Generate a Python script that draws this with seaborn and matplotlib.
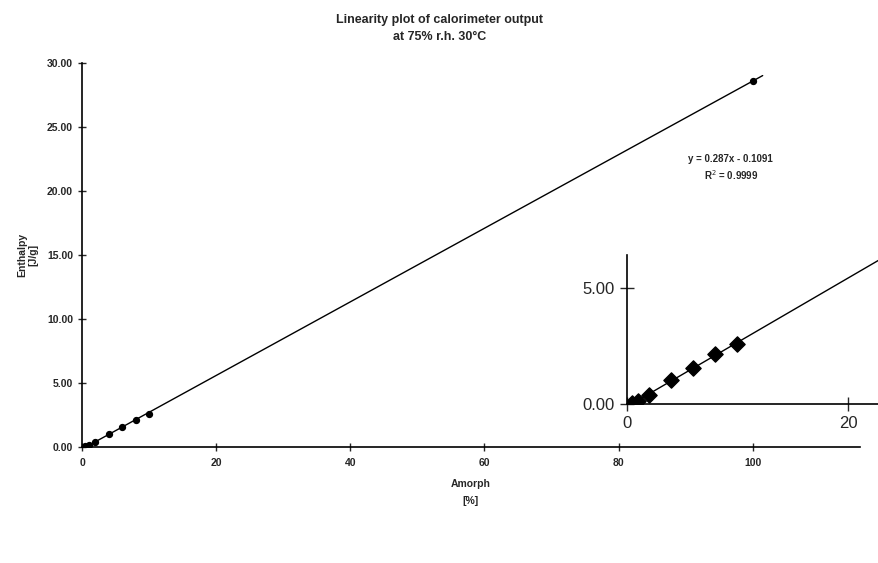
###### Libraries

import numpy as np
import pandas as pd
import matplotlib.pyplot as plt
import seaborn as sns

###### Data

amorph = [0.5, 1, 2, 4, 6, 8, 10, 100]
enthalpy = [0.07, 0.12, 0.39, 1.03, 1.57, 2.14, 2.60, 28.6]
x_ticks = [0, 20, 40, 60, 80, 100]
y_ticks = [0, 5, 10, 15, 20, 25, 30]
inset_x_ticks = [0, 20]
inset_y_ticks = [0, 5]
equation = "y = 0.287x - 0.1091"
r_squared = "R$^2$ = 0.9999"

df = pd.DataFrame({"amorph": amorph, "enthalpy": enthalpy})

###### Style

sns.set_style("ticks")
plt.rcParams["font.family"] = ["Liberation Sans", "DejaVu Sans"]

fig = plt.figure(figsize=(8.79, 5.63), dpi=100)

###### Main plot

ax = fig.add_axes([0.0933, 0.206, 0.885, 0.682])
ax.set_xlim(0, 101.5)
sns.regplot(data=df, x="amorph", y="enthalpy", ax=ax, ci=None, truncate=False,
            marker="o", color="black",
            scatter_kws={"s": 18, "edgecolor": "black", "alpha": 1},
            line_kws={"linewidth": 1})
ax.set_xlim(0, 116)
ax.set_ylim(0, 30)
ax.set_xticks(x_ticks)
ax.set_xticklabels([str(t) for t in x_ticks], fontsize=7.5, fontweight="bold")
ax.set_yticks(y_ticks)
ax.set_yticklabels(["%.2f" % t for t in y_ticks], fontsize=7.5, fontweight="bold")
ax.tick_params(axis="y", direction="inout", length=6, width=1)
ax.tick_params(axis="x", direction="inout", length=6, width=1, pad=5)
ax.set_xlabel("Amorph\n[%]", fontsize=7.5, fontweight="bold", labelpad=8,
              linespacing=1.8)
ax.set_ylabel("Enthalpy\n[J/g]", fontsize=7.5, fontweight="bold", labelpad=6)
sns.despine(ax=ax)
for s in ["left", "bottom"]:
    ax.spines[s].set_linewidth(1.2)
    ax.spines[s].set_color("black")

ax.text(0.834, 0.727, equation + "\n" + r_squared, transform=ax.transAxes,
        ha="center", va="center", fontsize=7, fontweight="bold", linespacing=1.4)

fig.suptitle("Linearity plot of calorimeter output\nat 75% r.h. 30°C",
             fontsize=9, fontweight="bold", y=0.975, linespacing=1.5)

###### Inset

axin = fig.add_axes([0.713, 0.282, 0.287, 0.265])
axin.set_xlim(0, 22.8)
sns.regplot(data=df[df["amorph"] <= 10], x="amorph", y="enthalpy", ax=axin,
            ci=None, truncate=False, marker="D", color="black",
            scatter_kws={"s": 60, "edgecolor": "black", "alpha": 1},
            line_kws={"linewidth": 1})
axin.set_xlim(0, 22.8)
axin.set_ylim(0, 6.4)
axin.patch.set_alpha(0)
axin.set_xticks(inset_x_ticks)
axin.set_xticklabels([str(t) for t in inset_x_ticks], fontsize=12)
axin.set_yticks(inset_y_ticks)
axin.set_yticklabels(["%.2f" % t for t in inset_y_ticks], fontsize=12)
axin.tick_params(direction="inout", length=10, width=1)
axin.set_xlabel("")
axin.set_ylabel("")
sns.despine(ax=axin)
for s in ["left", "bottom"]:
    axin.spines[s].set_linewidth(1.2)
    axin.spines[s].set_color("black")

plt.savefig("out.png", dpi=100)
